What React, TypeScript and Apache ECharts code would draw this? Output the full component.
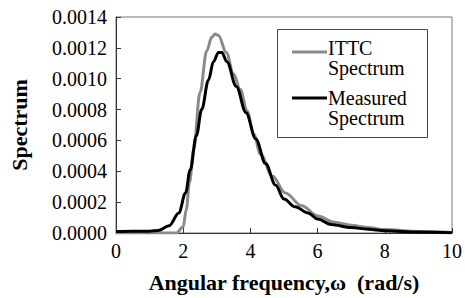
import React, { useEffect, useRef } from "react";
import * as echarts from "echarts";

const ittcOmega = [0, 1.0, 1.8, 2.0, 2.09, 2.19, 2.31, 2.5, 2.7, 2.85, 2.95, 3.05, 3.28, 3.5, 3.7, 3.9, 4.1, 4.3, 4.65, 5.04, 5.53, 6.0, 6.5, 7.0, 7.5, 8.0, 9.0, 10.0];
const ittcS = [0, 0, 0, 0.00004, 0.00015, 0.00033, 0.00054, 0.00091, 0.00118, 0.00127, 0.00129, 0.00128, 0.00117, 0.00103, 0.00093, 0.00079, 0.00064, 0.00051, 0.00037, 0.00026, 0.000176, 0.00011, 0.00007, 0.00005, 0.000035, 0.000022, 0.00001, 0.000004];

const measOmega = [0, 0.5, 1.0, 1.25, 1.58, 1.87, 2.07, 2.21, 2.39, 2.55, 2.75, 2.9, 3.05, 3.15, 3.3, 3.58, 3.87, 4.16, 4.45, 4.75, 5.0, 5.33, 5.72, 6.0, 6.4, 7.0, 7.5, 8.0, 9.0, 10.0];
const measS = [0.00001, 0.000012, 0.000012, 0.000016, 0.000047, 0.00013, 0.00026, 0.00041, 0.00063, 0.0008, 0.00099, 0.00111, 0.00117, 0.00117, 0.00111, 0.00095, 0.00078, 0.00061, 0.00045, 0.00031, 0.00022, 0.00017, 0.00013, 0.00009, 0.000055, 0.000035, 0.000025, 0.000015, 0.000006, 0.000002];

const xTicks = [0, 2, 4, 6, 8, 10];
const yTicks = [0, 0.0002, 0.0004, 0.0006, 0.0008, 0.001, 0.0012, 0.0014];

const seriesNames = ["ITTC\nSpectrum", "Measured\nSpectrum"];
const xTitle = "Angular frequency,\u03c9  (rad/s)";
const yTitle = "Spectrum";

const FONT = "Liberation Serif";

export default function App() {
  const ref = useRef<HTMLDivElement>(null);
  useEffect(() => {
    if (!ref.current) return;
    const chart = echarts.init(ref.current, null, { renderer: "svg" });
    const ittc = ittcOmega.map((x, i) => [x, ittcS[i]]);
    const meas = measOmega.map((x, i) => [x, measS[i]]);
    chart.setOption({
      animation: false,
      backgroundColor: "#fff",
      textStyle: { fontFamily: FONT },
      grid: {
        left: 111,
        right: 12,
        top: 17,
        bottom: 64,
        show: true,
        borderColor: "#777",
        borderWidth: 1,
      },
      xAxis: {
        type: "value",
        min: xTicks[0],
        max: xTicks[xTicks.length - 1],
        interval: 2,
        name: xTitle,
        nameLocation: "middle",
        nameGap: 38,
        nameTextStyle: { fontFamily: FONT, fontWeight: "bold", fontSize: 22, color: "#000" },
        axisLine: { lineStyle: { color: "#333", width: 1 } },
        axisTick: { inside: true, length: 5, lineStyle: { color: "#333" } },
        axisLabel: { fontFamily: FONT, fontSize: 20, color: "#000", margin: 8 },
        splitLine: { show: false },
      },
      yAxis: {
        type: "value",
        min: yTicks[0],
        max: yTicks[yTicks.length - 1],
        interval: 0.0002,
        name: yTitle,
        nameLocation: "middle",
        nameRotate: 90,
        nameGap: 86,
        nameTextStyle: { fontFamily: FONT, fontWeight: "bold", fontSize: 22, color: "#000" },
        axisLine: { show: true, lineStyle: { color: "#333", width: 1 } },
        axisTick: { show: true, inside: true, length: 5, lineStyle: { color: "#333" } },
        axisLabel: {
          fontFamily: FONT,
          fontSize: 20,
          color: "#000",
          margin: 9,
          formatter: (v: number) => v.toFixed(4),
        },
        splitLine: { show: false },
      },
      series: [
        {
          name: seriesNames[0],
          type: "line",
          data: ittc,
          smooth: 0.35,
          smoothMonotone: "x",
          showSymbol: false,
          symbol: "none",
          lineStyle: { color: "#8a8a8a", width: 3 },
          z: 2,
        },
        {
          name: seriesNames[1],
          type: "line",
          data: meas,
          smooth: 0.35,
          smoothMonotone: "x",
          showSymbol: false,
          symbol: "none",
          lineStyle: { color: "#000", width: 3 },
          z: 3,
        },
      ],
      graphic: [
        {
          type: "rect",
          shape: { x: 277.5, y: 29.5, width: 150, height: 108 },
          style: { fill: "#fff", stroke: "#444", lineWidth: 1 },
          z: 10,
        },
        {
          type: "line",
          shape: { x1: 292, y1: 52, x2: 327, y2: 52 },
          style: { stroke: "#8a8a8a", lineWidth: 3 },
          z: 11,
        },
        {
          type: "text",
          x: 328,
          y: 38,
          style: { text: seriesNames[0], fontFamily: FONT, fontSize: 20, lineHeight: 20, fill: "#000" },
          z: 11,
        },
        {
          type: "line",
          shape: { x1: 292, y1: 98, x2: 327, y2: 98 },
          style: { stroke: "#000", lineWidth: 3 },
          z: 11,
        },
        {
          type: "text",
          x: 328,
          y: 88,
          style: { text: seriesNames[1], fontFamily: FONT, fontSize: 20, lineHeight: 20, fill: "#000" },
          z: 11,
        },
      ],
    });
    return () => chart.dispose();
  }, []);
  return <div ref={ref} style={{ width: 465, height: 298, position: "absolute", left: 0, top: 0 }} />;
}
